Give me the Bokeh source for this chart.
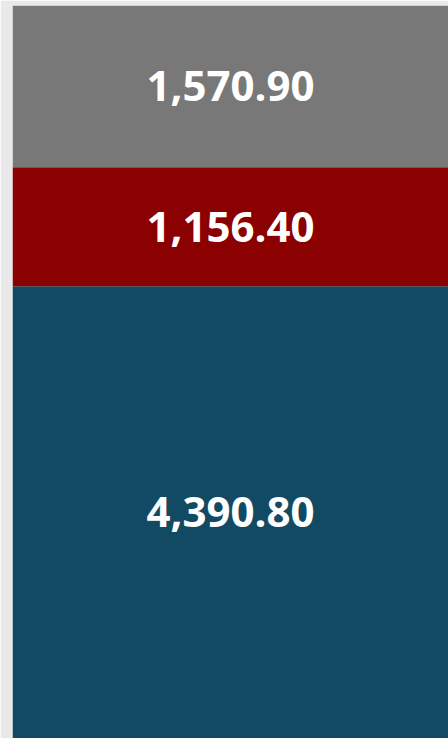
from bokeh.plotting import figure
from bokeh.models import Range1d, ColumnDataSource
from bokeh.core.properties import value
from bokeh.embed import file_html
from bokeh.resources import INLINE

categories = ["bottom", "middle", "top"]
values = [4390.80, 1156.40, 1570.90]
colors = ["#134a63", "#8b0000", "#787878"]

bottoms = []
tops = []
acc = 0.0
for v in values:
    bottoms.append(acc)
    acc += v
    tops.append(acc)
total = acc

src = ColumnDataSource(dict(
    cat=categories,
    bottom=bottoms,
    top=tops,
    mid=[(b + t) / 2 for b, t in zip(bottoms, tops)],
    label=["{:,.2f}".format(v) for v in values],
    color=colors,
    x=[0.5] * len(values),
))

p = figure(width=448, height=738, output_backend="svg", toolbar_location=None,
           x_range=Range1d(0, 1), y_range=Range1d(0, total),
           min_border_left=12, min_border_right=0, min_border_top=5, min_border_bottom=0)
p.axis.visible = False
p.grid.visible = False
p.outline_line_color = None
p.background_fill_color = "#e9e9e9"
p.border_fill_color = "#e9e9e9"

p.quad(left=0, right=1, bottom="bottom", top="top", fill_color="color",
       line_color=None, source=src)
p.text(x="x", y="mid", text="label", source=src, text_color="white",
       text_font=value("Open Sans"), text_font_style="bold", text_font_size="42px",
       text_align="center", text_baseline="middle")

open("out.html", "w").write(file_html(p, INLINE))
